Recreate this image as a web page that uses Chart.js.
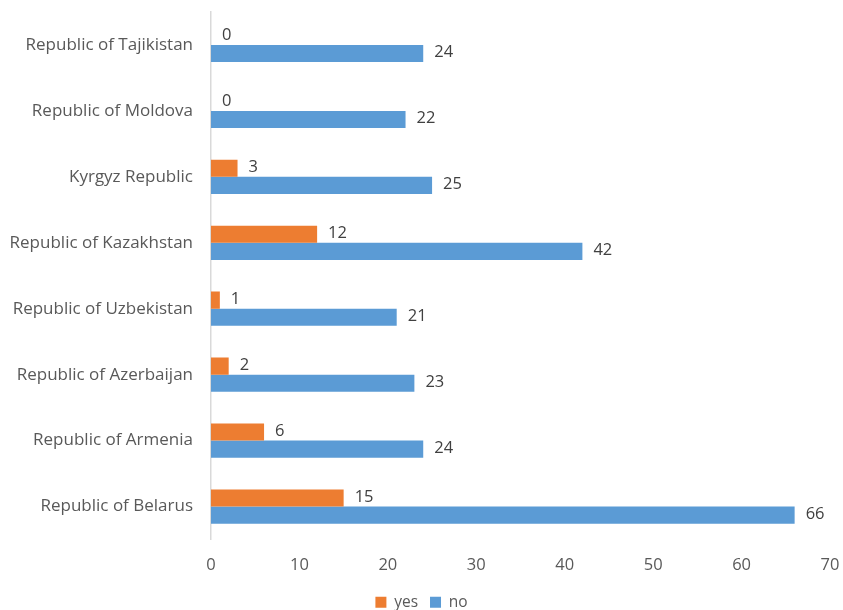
<!DOCTYPE html>
<html>
<head>
<meta charset="utf-8">
<script src="https://cdn.jsdelivr.net/npm/chart.js@4"></script>
<style>
  body { margin: 0; background: #fff; }
</style>
</head>
<body>
<canvas id="chart1" width="843" height="610"></canvas>
<script>
const countries = [
  'Republic of Tajikistan',
  'Republic of Moldova',
  'Kyrgyz Republic',
  'Republic of Kazakhstan',
  'Republic of Uzbekistan',
  'Republic of Azerbaijan',
  'Republic of Armenia',
  'Republic of Belarus'
]
const yesValues = [0, 0, 3, 12, 1, 2, 6, 15]
const noValues = [24, 22, 25, 42, 21, 23, 24, 66]
const xTicks = [0, 10, 20, 30, 40, 50, 60, 70]

const orange = '#ED7D31'
const blue = '#5B9BD5'
const fontFamily = '"Open Sans", Lato, sans-serif'

// simple value labels at the end of each bar
const barLabels = {
  id: 'barLabels',
  afterDatasetsDraw(chart) {
    const ctx = chart.ctx
    ctx.save()
    ctx.font = '16.5px ' + fontFamily
    ctx.fillStyle = '#404040'
    ctx.textAlign = 'left'
    ctx.textBaseline = 'middle'
    chart.data.datasets.forEach((ds, i) => {
      chart.getDatasetMeta(i).data.forEach((bar, j) => {
        ctx.fillText(String(ds.data[j]), bar.x + 11, bar.y - 1)
      })
    })
    ctx.restore()
  }
}

const ctx = document.getElementById('chart1').getContext('2d')
new Chart(ctx, {
  type: 'bar',
  data: {
    labels: countries,
    datasets: [
      { label: 'yes', data: yesValues, backgroundColor: orange, categoryPercentage: 0.52, barPercentage: 1.0 },
      { label: 'no', data: noValues, backgroundColor: blue, categoryPercentage: 0.52, barPercentage: 1.0 }
    ]
  },
  options: {
    indexAxis: 'y',
    responsive: false,
    animation: false,
    layout: { padding: { top: 12, right: 0, left: 0, bottom: -10 } },
    scales: {
      x: {
        min: 0,
        max: 70,
        afterBuildTicks: s => { s.ticks = xTicks.map(v => ({ value: v })) },
        afterFit: s => { s.height = 43; s.paddingRight = 13 },
        grid: { display: false },
        border: { display: false },
        ticks: { color: '#595959', font: { family: fontFamily, size: 16.5 }, padding: 8 }
      },
      y: {
        afterFit: s => { s.width = 211; s.paddingTop = 0; s.paddingBottom = 0 },
        grid: { display: false },
        border: { display: true, color: '#D9D9D9', width: 1.5 },
        ticks: { color: '#595959', font: { family: fontFamily, size: 17 }, padding: 10 }
      }
    },
    plugins: {
      legend: {
        position: 'bottom',
        labels: {
          boxWidth: 11,
          boxHeight: 11,
          color: '#595959',
          font: { family: fontFamily, size: 15.5 },
          padding: 12
        }
      },
      tooltip: { enabled: false }
    }
  },
  plugins: [barLabels]
})
</script>
</body>
</html>
